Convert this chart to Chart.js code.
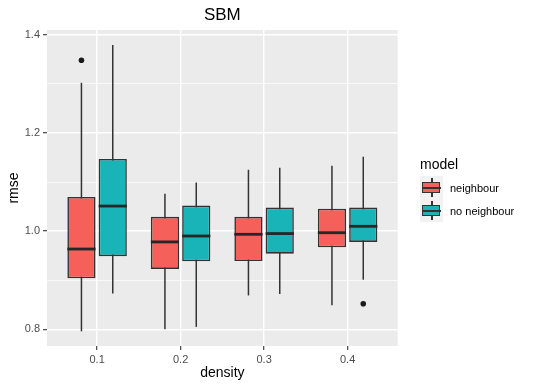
<!DOCTYPE html>
<html>
<head>
<meta charset="utf-8">
<script src="https://cdn.jsdelivr.net/npm/chart.js@4"></script>
<style>
  body { margin: 0; background: #fff; font-family: "Liberation Sans", Arial, sans-serif; }
  #wrap { position: relative; width: 533px; height: 388px; }
  #legend { position: absolute; left: 420px; top: 154px; color: #000; }
  #legend .title { font-size: 14px; height: 22px; line-height: 20px; }
  #legend .row { display: flex; align-items: center; height: 23px; }
  #legend .row span { font-size: 11px; margin-left: 7px; }
  .key { position: relative; width: 23px; height: 23px; background: #F2F2F2; }
  .key .wh { position: absolute; left: 11px; top: 2px; width: 1.5px; height: 19px; background: #333; }
  .key .bx { position: absolute; left: 2px; top: 6px; width: 16px; height: 9px; border: 1.5px solid #333; }
  .key .md { position: absolute; left: 2px; top: 10.5px; width: 19px; height: 2px; background: #333; }
</style>
</head>
<body>
<div id="wrap">
  <canvas id="chart" width="533" height="388"></canvas>
  <div id="legend">
    <div class="title">model</div>
    <div class="row"><div class="key"><div class="wh"></div><div class="bx" style="background:#F5605A"></div><div class="md"></div></div><span>neighbour</span></div>
    <div class="row"><div class="key"><div class="wh"></div><div class="bx" style="background:#18B4B8"></div><div class="md"></div></div><span>no neighbour</span></div>
  </div>
</div>
<script>
// categorias e estatisticas
const densityLabels = ['0.1', '0.2', '0.3', '0.4'];

const neighbourLower  = [0.796, 0.800, 0.869, 0.849];
const neighbourQ1     = [0.904, 0.923, 0.939, 0.967];
const neighbourMedian = [0.9635, 0.978, 0.9935, 0.9967];
const neighbourQ3     = [1.0695, 1.029, 1.029, 1.0456];
const neighbourUpper  = [1.302, 1.076, 1.125, 1.133];
const neighbourOutliers = [[0, 1.348]];

const noNeighbourLower  = [0.873, 0.805, 0.872, 0.901];
const noNeighbourQ1     = [0.949, 0.9385, 0.954, 0.978];
const noNeighbourMedian = [1.051, 0.990, 0.995, 1.0098];
const noNeighbourQ3     = [1.147, 1.052, 1.048, 1.048];
const noNeighbourUpper  = [1.379, 1.099, 1.129, 1.1515];
const noNeighbourOutliers = [[3, 0.852]];

const yMajorTicks = [0.8, 1.0, 1.2, 1.4];
const yMinorTicks = [0.9, 1.1, 1.3];

const DODGE = 0.1875;
const series = [
  { label: 'neighbour', color: '#F5605A', shift: -DODGE, lower: neighbourLower, q1: neighbourQ1, median: neighbourMedian, q3: neighbourQ3, upper: neighbourUpper, outliers: neighbourOutliers },
  { label: 'no neighbour', color: '#18B4B8', shift: DODGE, lower: noNeighbourLower, q1: noNeighbourQ1, median: noNeighbourMedian, q3: noNeighbourQ3, upper: noNeighbourUpper, outliers: noNeighbourOutliers }
];

const boxDatasets = series.map(s => ({
  type: 'bar',
  label: s.label,
  data: densityLabels.map((_, i) => ({ x: i + 1 + s.shift, y: [s.q1[i], s.q3[i]] })),
  backgroundColor: s.color,
  borderColor: '#333333',
  borderWidth: 1.6,
  borderSkipped: false,
  grouped: false,
  categoryPercentage: 1,
  barPercentage: 0.9
}));

const outlierDataset = {
  type: 'scatter',
  label: 'outliers',
  data: series.flatMap(s => s.outliers.map(o => ({ x: o[0] + 1 + s.shift, y: o[1] }))),
  backgroundColor: '#1A1A1A',
  borderWidth: 0,
  pointRadius: 2.8
};

// fundo cinza do painel
const panelBg = {
  id: 'panelBg',
  beforeDraw(chart) {
    const { ctx, chartArea: a } = chart;
    ctx.save();
    ctx.fillStyle = '#EBEBEB';
    ctx.fillRect(a.left, a.top, a.right - a.left, a.bottom - a.top);
    ctx.restore();
  }
};

// bigodes atras das caixas, medianas por cima
const boxParts = {
  id: 'boxParts',
  beforeDatasetsDraw(chart) {
    const { ctx, scales: { x, y } } = chart;
    ctx.save();
    ctx.strokeStyle = '#333333';
    ctx.lineWidth = 1.5;
    series.forEach(s => {
      s.lower.forEach((lo, i) => {
        const px = x.getPixelForValue(i + 1 + s.shift);
        ctx.beginPath();
        ctx.moveTo(px, y.getPixelForValue(lo));
        ctx.lineTo(px, y.getPixelForValue(s.upper[i]));
        ctx.stroke();
      });
    });
    ctx.restore();
  },
  afterDatasetsDraw(chart) {
    const { ctx, scales: { y } } = chart;
    ctx.save();
    ctx.strokeStyle = '#262626';
    ctx.lineWidth = 2.8;
    series.forEach((s, d) => {
      const meta = chart.getDatasetMeta(d);
      meta.data.forEach((bar, i) => {
        const py = y.getPixelForValue(s.median[i]);
        ctx.beginPath();
        ctx.moveTo(bar.x - bar.width / 2, py);
        ctx.lineTo(bar.x + bar.width / 2, py);
        ctx.stroke();
      });
    });
    ctx.restore();
  }
};

const yTickList = [...yMajorTicks.map(v => ({ value: v, isMajor: true })), ...yMinorTicks.map(v => ({ value: v, isMajor: false }))]
  .sort((a, b) => a.value - b.value);

new Chart(document.getElementById('chart'), {
  type: 'bar',
  data: { datasets: [...boxDatasets, outlierDataset] },
  plugins: [panelBg, boxParts],
  options: {
    responsive: false,
    animation: false,
    layout: { padding: { left: 0, right: 135.3, top: 0, bottom: 0 } },
    plugins: {
      legend: { display: false },
      tooltip: { enabled: false },
      title: {
        display: true,
        text: 'SBM',
        fullSize: false,
        color: '#000',
        font: { family: '"Liberation Sans", Arial', size: 17, weight: 'normal' },
        padding: { top: 5, bottom: 4.6 }
      }
    },
    scales: {
      x: {
        type: 'linear',
        min: 0.4,
        max: 4.6,
        offset: false,
        afterBuildTicks: s => { s.ticks = densityLabels.map((_, i) => ({ value: i + 1 })); },
        afterFit: s => { s.height = 42; },
        ticks: {
          autoSkip: false,
          maxRotation: 0,
          padding: 3,
          color: '#4D4D4D',
          font: { family: '"Liberation Sans", Arial', size: 11 },
          callback: (v, i) => densityLabels[i]
        },
        grid: { offset: false, color: '#FFFFFF', lineWidth: 1.4, tickColor: '#333333', tickLength: 4, tickWidth: 1.1 },
        border: { display: false },
        title: {
          display: true,
          text: 'density',
          color: '#000',
          font: { family: '"Liberation Sans", Arial', size: 14 },
          padding: { top: 0, bottom: 6.3 }
        }
      },
      y: {
        type: 'linear',
        min: 0.766,
        max: 1.4096,
        afterBuildTicks: s => { s.ticks = yTickList.map(t => ({ ...t })); },
        afterFit: s => { s.width = 47; },
        ticks: {
          autoSkip: false,
          padding: 3,
          color: '#4D4D4D',
          font: { family: '"Liberation Sans", Arial', size: 11 },
          callback: (v, i, ticks) => ticks[i].isMajor ? v.toFixed(1) : ''
        },
        grid: {
          color: '#FFFFFF',
          lineWidth: c => (c.tick && c.tick.isMajor) ? 1.4 : 0.7,
          tickColor: c => (c.tick && c.tick.isMajor) ? '#333333' : 'rgba(0,0,0,0)',
          tickLength: 4,
          tickWidth: 1.1
        },
        border: { display: false },
        title: {
          display: true,
          text: 'rmse',
          color: '#000',
          font: { family: '"Liberation Sans", Arial', size: 14 },
          padding: { top: 5.6, bottom: 0 }
        }
      }
    }
  }
});
</script>
</body>
</html>
